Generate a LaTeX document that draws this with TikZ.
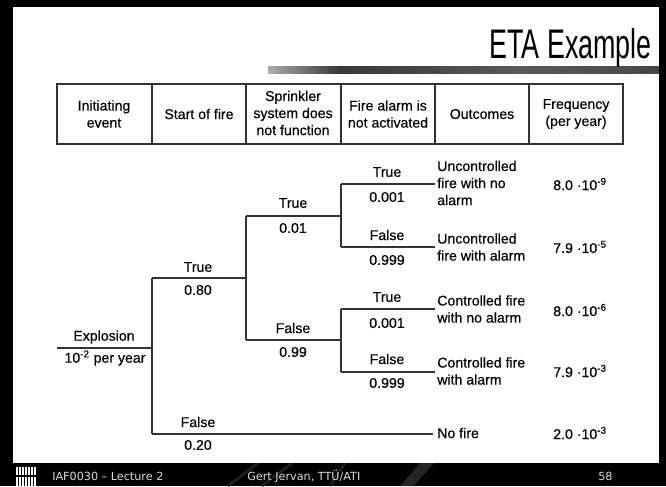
\documentclass[tikz,border=0pt]{standalone}
\usepackage{fontspec}
\setmainfont{Liberation Sans}
\newfontfamily\tabfont{Liberation Sans}[FakeBold=0.35]
\newfontfamily\footfont{DejaVu Sans}
\usetikzlibrary{calc}
\definecolor{linegray}{HTML}{333333}
\definecolor{footgray}{HTML}{DCDCDC}
\begin{document}
\begin{tikzpicture}[x=0.75pt,y=-0.75pt,
  branch/.style={draw=linegray, line width=1.1pt},
  grid/.style={draw=linegray, line width=1.1pt},
  lbl/.style={font=\tabfont\fontsize{10.6}{12.8}\selectfont, inner sep=0pt, anchor=center},
  hdr/.style={lbl, align=center},
  outc/.style={lbl, anchor=west, align=left},
  freq/.style={lbl, anchor=west},
  foot/.style={font=\footfont\fontsize{8.4}{10}\selectfont, text=footgray, inner sep=0pt, anchor=west}]

% slide frame and footer band
\fill[black] (0,0) rectangle (666,486);
\fill[white] (13,7) rectangle (659,463);
\begin{scope}
  \clip (13,463) rectangle (666,486);
  \draw[black!88!white, line width=2pt] (228,486) -- (258,463) (262,486) -- (292,463) (330,486) -- (345,463);
  \fill[black!86!white] (400,486) -- (420,463) -- (434,463) -- (414,486) -- cycle;
\end{scope}

% title and its bar
\shade[left color=gray!65, right color=black!78] (268,66) rectangle (340,73);
\shade[left color=black!78, right color=black!65] (340,66) rectangle (520,73);
\shade[left color=black!65, right color=black!72] (520,66) rectangle (659,73);
\node[font=\fontsize{31}{34}\selectfont, xscale=0.65, anchor=base east, inner sep=0pt] (title) at (652,58) {ETA Example};

% header row
\draw[grid] (57,84) rectangle (623,144);
\foreach \xx in {152,246,341,435,529} \draw[grid] (\xx,84) -- (\xx,144);
\node[hdr] (h1) at (104,114) {Initiating\\event};
\node[hdr] (h2) at (199,114) {Start of fire};
\node[hdr] (h3) at (293,113) {Sprinkler\\system does\\not function};
\node[hdr] (h4) at (388,114) {Fire alarm is\\not activated};
\node[hdr] (h5) at (482,114) {Outcomes};
\node[hdr] (h6) at (576,114) {Frequency\\(per year)};

% branch points of the tree
\coordinate (r0) at (57,348);
\coordinate (r1) at (152,348);
\coordinate (a1) at (152,278); \coordinate (a2) at (246,278);
\coordinate (b1) at (152,434); \coordinate (b2) at (433,434);
\coordinate (c1) at (246,216); \coordinate (c2) at (341,216);
\coordinate (d1) at (246,340); \coordinate (d2) at (341,340);
\coordinate (e1) at (341,184); \coordinate (e2) at (435,184);
\coordinate (f1) at (341,247); \coordinate (f2) at (435,247);
\coordinate (g1) at (341,309); \coordinate (g2) at (435,309);
\coordinate (k1) at (341,372); \coordinate (k2) at (435,372);

\draw[branch] (r0) -- (r1);
\draw[branch] (a1) -- (b1);
\draw[branch] (a1) -- (a2);
\draw[branch] (b1) -- (b2);
\draw[branch] (c1) -- (d1);
\draw[branch] (c1) -- (c2);
\draw[branch] (d1) -- (d2);
\draw[branch] (e1) -- (f1);
\draw[branch] (e1) -- (e2);
\draw[branch] (f1) -- (f2);
\draw[branch] (g1) -- (k1);
\draw[branch] (g1) -- (g2);
\draw[branch] (k1) -- (k2);

% branch labels
\node[lbl] (ev) at (104,337) {Explosion};
\node[lbl] (evf) at (105,358) {10\textsuperscript{-2} per year};
\node[lbl] (t2) at (198,267) {True};
\node[lbl] (p2) at (198,290) {0.80};
\node[lbl] (n2) at (198,422) {False};
\node[lbl] (q2) at (198,445) {0.20};
\node[lbl] (t3) at (293,203) {True};
\node[lbl] (p3) at (293,228) {0.01};
\node[lbl] (n3) at (293,328) {False};
\node[lbl] (q3) at (293,352) {0.99};
\node[lbl] (t4a) at (387,172) {True};
\node[lbl] (p4a) at (387,197) {0.001};
\node[lbl] (n4a) at (387,235) {False};
\node[lbl] (q4a) at (387,260) {0.999};
\node[lbl] (t4b) at (387,297) {True};
\node[lbl] (p4b) at (387,323) {0.001};
\node[lbl] (n4b) at (387,359) {False};
\node[lbl] (q4b) at (387,383) {0.999};

% outcomes
\node[outc] (o1) at (437,183) {Uncontrolled\\fire with no\\alarm};
\node[outc] (o2) at (437,247) {Uncontrolled\\fire with alarm};
\node[outc] (o3) at (437,309) {Controlled fire\\with no alarm};
\node[outc] (o4) at (437,371) {Controlled fire\\with alarm};
\node[outc] (o5) at (437,433) {No fire};

% frequencies
\node[freq] (f1n) at (553,184) {8.0 ·10\textsuperscript{-9}};
\node[freq] (f2n) at (553,247) {7.9 ·10\textsuperscript{-5}};
\node[freq] (f3n) at (553,310) {8.0 ·10\textsuperscript{-6}};
\node[freq] (f4n) at (553,371) {7.9 ·10\textsuperscript{-3}};
\node[freq] (f5n) at (553,433) {2.0 ·10\textsuperscript{-3}};

% footer
\foreach \xx in {16,19,22,25,28,31,34} {
  \fill[white] (\xx,467) rectangle ++(1.6,8);
  \fill[white] (\xx,477) rectangle ++(1.6,9);
}
\node[foot] (ft1) at (52,476) {IAF0030 – Lecture 2};
\node[foot] (ft2) at (247,476) {Gert Jervan, TTÜ/ATI};
\node[foot] (ft3) at (598,476) {58};
\end{tikzpicture}
\end{document}
